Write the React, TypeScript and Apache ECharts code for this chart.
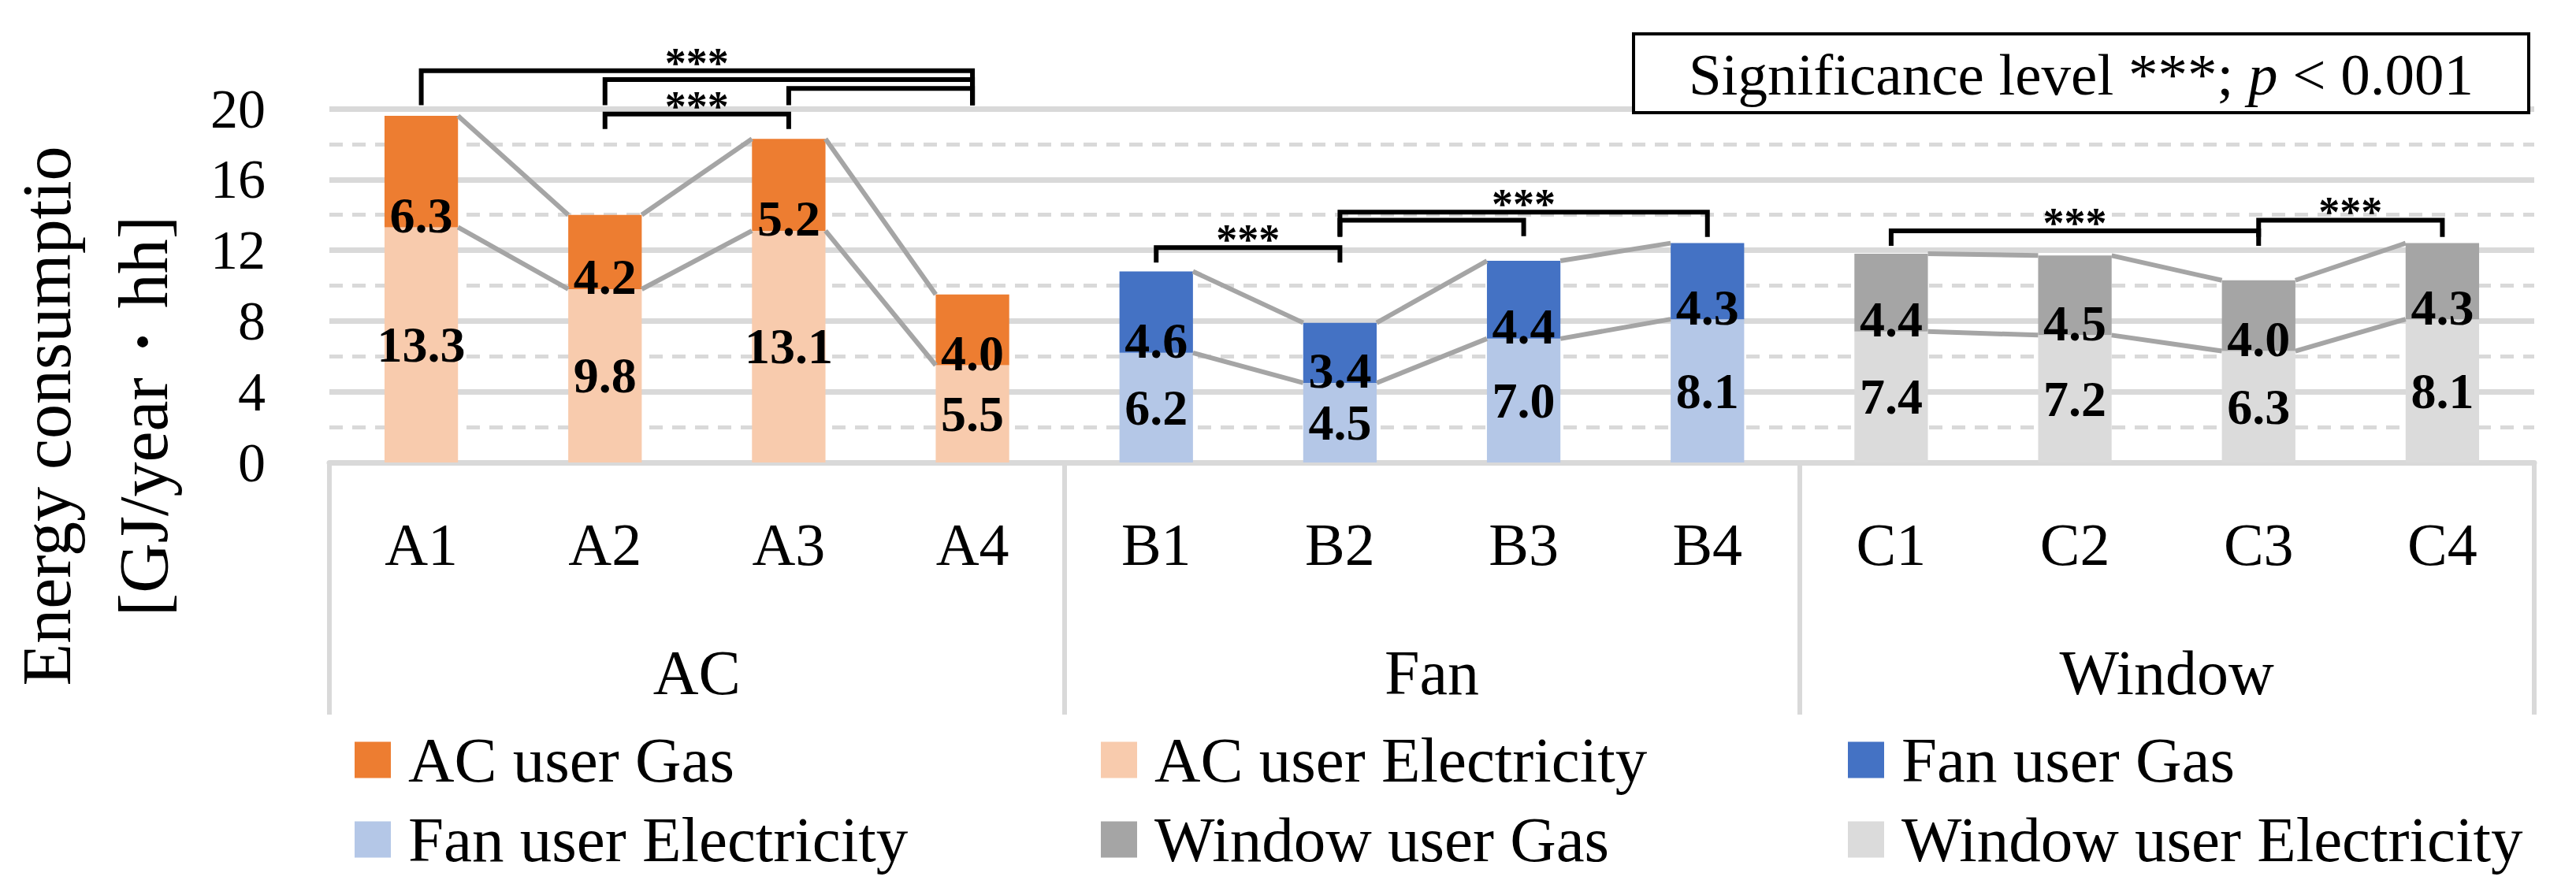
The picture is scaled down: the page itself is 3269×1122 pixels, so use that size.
import React, { useEffect, useRef } from "react";
import * as echarts from "echarts";

// ---------------- data ----------------
const categories = ["A1", "A2", "A3", "A4", "B1", "B2", "B3", "B4", "C1", "C2", "C3", "C4"];
const groups = ["AC", "Fan", "Window"];

const acElectricity = [13.3, 9.8, 13.1, 5.5];
const acGas = [6.3, 4.2, 5.2, 4.0];
const fanElectricity = [6.2, 4.5, 7.0, 8.1];
const fanGas = [4.6, 3.4, 4.4, 4.3];
const windowElectricity = [7.4, 7.2, 6.3, 8.1];
const windowGas = [4.4, 4.5, 4.0, 4.3];

const legendNames = [
  "AC user Gas",
  "AC user Electricity",
  "Fan user Gas",
  "Fan user Electricity",
  "Window user Gas",
  "Window user Electricity",
];

// significance brackets (category index from/to, value of the top bar, value where legs end)
const bracketFrom = [0, 1, 2, 1, 4, 5, 5, 8, 10];
const bracketTo = [3, 3, 3, 2, 5, 7, 6, 10, 11];
const bracketTop = [22.15, 21.65, 21.15, 19.7, 12.15, 14.15, 13.7, 13.1, 13.7];
const bracketLeg = [20.2, 20.2, 20.2, 18.85, 11.3, 12.75, 12.8, 12.25, 12.75];
const bracketStars = [1, 0, 0, 1, 1, 1, 0, 1, 1];

const yMin = 0;
const yMax = 20;
const yInterval = 4;

// ---------------- helpers ----------------
const FONT = "'Liberation Serif', 'Times New Roman', serif";

const place = (vals: number[], g: number) =>
  categories.map((_, i) => (Math.floor(i / 4) === g ? vals[i % 4] : "-"));

const groupPairs: [number[], number[]][] = [
  [acElectricity, acGas],
  [fanElectricity, fanGas],
  [windowElectricity, windowGas],
];

const connectorData: number[][] = [];
groupPairs.forEach(([elec, gas], g) => {
  for (let i = 0; i < elec.length - 1; i++) {
    connectorData.push([g * 4 + i, elec[i] + gas[i], g * 4 + i + 1, elec[i + 1] + gas[i + 1]]);
    connectorData.push([g * 4 + i, elec[i], g * 4 + i + 1, elec[i + 1]]);
  }
});

const bracketData = bracketFrom.map((f, i) => [f, bracketTop[i], bracketTo[i], bracketLeg[i], bracketStars[i]]);

const labelFmt = (p: any) => Number(p.value).toFixed(1);

const elecLabel = {
  show: true,
  position: "inside",
  formatter: labelFmt,
  fontSize: 64,
  lineHeight: 48,
  fontWeight: "bold",
  fontFamily: FONT,
  color: "#000",
};
const gasLabel = {
  show: true,
  position: "insideBottom",
  distance: 5,
  offset: [0, 14],
  formatter: labelFmt,
  fontSize: 64,
  lineHeight: 48,
  fontWeight: "bold",
  fontFamily: FONT,
  color: "#000",
};

const barSeries = (name: string, vals: number[], g: number, color: string, label: any) => ({
  name,
  type: "bar",
  stack: "total",
  barWidth: "40%",
  data: place(vals, g),
  itemStyle: { color },
  label,
  emphasis: { disabled: true },
});

export default function App() {
  const ref = useRef<HTMLDivElement>(null);

  useEffect(() => {
    if (!ref.current) return;
    const chart = echarts.init(ref.current, undefined, { renderer: "svg" });

    const legendCols = [450, 1397, 2345];
    const legendRows = [924, 1025];

    const option: any = {
      animation: false,
      backgroundColor: "#fff",
      grid: { left: 418, right: 53, top: 138, bottom: 535, containLabel: false },
      xAxis: [
        {
          type: "category",
          data: categories,
          position: "bottom",
          axisLine: { show: true, lineStyle: { color: "#d9d9d9", width: 7 } },
          axisTick: { show: false },
          axisLabel: { interval: 0, margin: 66, fontSize: 76, fontFamily: FONT, color: "#000" },
          splitLine: { show: false },
        },
        {
          type: "category",
          data: groups,
          position: "bottom",
          axisLine: { show: false },
          axisTick: {
            show: true,
            interval: 0,
            length: 320,
            inside: false,
            lineStyle: { color: "#d9d9d9", width: 6 },
          },
          axisLabel: { interval: 0, margin: 227, fontSize: 80, fontFamily: FONT, color: "#000" },
          splitLine: { show: false },
        },
      ],
      yAxis: {
        type: "value",
        min: yMin,
        max: yMax,
        interval: yInterval,
        axisLine: { show: false },
        axisTick: { show: false },
        axisLabel: { margin: 81, fontSize: 70, fontFamily: FONT, color: "#000" },
        splitLine: { show: true, lineStyle: { color: "#d9d9d9", width: 7 } },
        minorTick: { show: false, splitNumber: 2 },
        minorSplitLine: { show: true, lineStyle: { color: "#d9d9d9", width: 5, type: [17, 12] } },
      },
      legend: legendNames.map((name, i) => ({
        data: [name],
        left: legendCols[i % 3],
        top: legendRows[Math.floor(i / 3)],
        orient: "horizontal",
        icon: "rect",
        itemWidth: 46,
        itemHeight: 46,
        padding: 0,
        selectedMode: false,
        textStyle: {
          fontSize: 81,
          fontFamily: FONT,
          color: "#000",
          lineHeight: 46,
          padding: [0, 0, 0, 17],
        },
      })),
      series: [
        barSeries("AC user Electricity", acElectricity, 0, "#F8CBAD", elecLabel),
        barSeries("AC user Gas", acGas, 0, "#ED7D31", gasLabel),
        barSeries("Fan user Electricity", fanElectricity, 1, "#B4C7E7", elecLabel),
        barSeries("Fan user Gas", fanGas, 1, "#4472C4", gasLabel),
        barSeries("Window user Electricity", windowElectricity, 2, "#DBDBDB", elecLabel),
        barSeries("Window user Gas", windowGas, 2, "#A5A5A5", gasLabel),
        {
          name: "connectors",
          type: "custom",
          silent: true,
          z: 5,
          clip: false,
          encode: { x: 0, y: 1 },
          data: connectorData,
          renderItem: (params: any, api: any) => {
            const p1 = api.coord([api.value(0), api.value(1)]);
            const p2 = api.coord([api.value(2), api.value(3)]);
            const bw = api.size([1, 0])[0] * 0.4;
            return {
              type: "line",
              shape: { x1: p1[0] + bw / 2, y1: p1[1], x2: p2[0] - bw / 2, y2: p2[1] },
              style: { stroke: "#a5a5a5", lineWidth: 6, fill: "none" },
            };
          },
        },
        {
          name: "brackets",
          type: "custom",
          silent: true,
          z: 6,
          clip: false,
          encode: { x: 0, y: 1 },
          data: bracketData,
          renderItem: (params: any, api: any) => {
            const a = api.coord([api.value(0), api.value(1)]);
            const b = api.coord([api.value(2), api.value(1)]);
            const legY = api.coord([api.value(0), api.value(3)])[1];
            const children: any[] = [
              {
                type: "polyline",
                shape: {
                  points: [
                    [a[0], legY],
                    [a[0], a[1]],
                    [b[0], b[1]],
                    [b[0], legY],
                  ],
                },
                style: { stroke: "#000", lineWidth: 6, fill: "none" },
              },
            ];
            if (api.value(4)) {
              children.push({
                type: "text",
                x: (a[0] + b[0]) / 2,
                y: a[1] - 10,
                style: {
                  text: "***",
                  fontSize: 54,
                  fontWeight: "bold",
                  lineHeight: 34,
                  fontFamily: FONT,
                  fill: "#000",
                  textFill: "#000",
                  align: "center",
                  verticalAlign: "middle",
                  textAlign: "center",
                  textVerticalAlign: "middle",
                },
              });
            }
            return { type: "group", children };
          },
        },
      ],
      graphic: [
        {
          type: "text",
          x: 121,
          y: 528,
          rotation: Math.PI / 2,
          silent: true,
          style: {
            text: "Energy consumptio\n[GJ/year・hh]",
            fontSize: 88,
            fontFamily: FONT,
            lineHeight: 123,
            fill: "#000",
            align: "center",
            verticalAlign: "middle",
            textAlign: "center",
            textVerticalAlign: "middle",
          },
        },
        {
          type: "rect",
          z: 50,
          silent: true,
          shape: { x: 2073, y: 43, width: 1136, height: 100 },
          style: { fill: "#fff", stroke: "#000", lineWidth: 4 },
        },
        {
          type: "text",
          z: 51,
          silent: true,
          x: 2641,
          y: 94,
          style: {
            text: "{a|Significance level ***; }{i|p}{a| < 0.001}",
            rich: {
              a: { fontSize: 75, fontFamily: FONT, fill: "#000", textFill: "#000" },
              i: { fontSize: 75, fontFamily: FONT, fontStyle: "italic", fill: "#000", textFill: "#000" },
            },
            fontSize: 75,
            fontFamily: FONT,
            fill: "#000",
            align: "center",
            verticalAlign: "middle",
            textAlign: "center",
            textVerticalAlign: "middle",
          },
        },
      ],
    };

    chart.setOption(option);
    return () => chart.dispose();
  }, []);

  return (
    <div
      ref={ref}
      style={{ position: "fixed", left: 0, top: 0, width: 3269, height: 1122, background: "#fff" }}
    />
  );
}
